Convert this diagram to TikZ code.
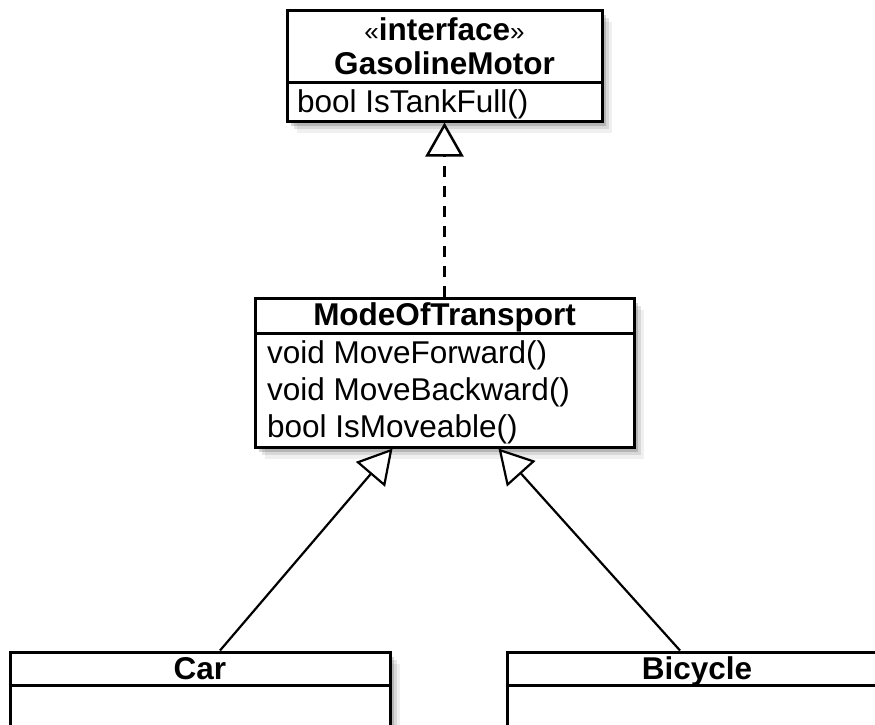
\documentclass[tikz,border=0pt]{standalone}
\usepackage{fontspec}
\setmainfont{Liberation Sans}
\usetikzlibrary{arrows.meta, shadows, calc}

\begin{document}
\begin{tikzpicture}[
    x=1pt, y=-1pt,
    font=\fontsize{31.5pt}{34pt}\selectfont,
    classbox/.style={rectangle, draw, line width=3pt, fill=white, inner sep=0pt,
        general shadow={fill=black, opacity=0.06, shadow xshift=10pt, shadow yshift=-12pt},
        general shadow={fill=black, opacity=0.10, shadow xshift=7pt, shadow yshift=-8pt},
        general shadow={fill=black, opacity=0.16, shadow xshift=4pt, shadow yshift=-5pt}},
    title/.style={anchor=base, inner sep=0pt, font=\fontsize{31.5pt}{34pt}\selectfont\bfseries},
    member/.style={anchor=base west, inner sep=0pt},
    divider/.style={line width=3pt},
    realize/.style={-{Triangle[open, fill=white, length=34pt, width=38pt]}, line width=2.5pt, dash pattern=on 11pt off 9pt},
    inherit/.style={-{Triangle[open, fill=white, length=34pt, width=38pt]}, line width=2.2pt}
]
\useasboundingbox (0,0) rectangle (875,724);

% Interface
\node[classbox, minimum width=315pt, minimum height=111pt] (gas) at (444.5,65.5) {};
\draw[divider] ([yshift=-74pt]gas.north west) -- ([yshift=-74pt]gas.north east);
\node[title] (gas-stereo) at (444.5,40) {{\mdseries\fontsize{26pt}{30pt}\selectfont«}interface{\mdseries\fontsize{26pt}{30pt}\selectfont»}};
\node[title] (gas-name) at (444.5,74) {GasolineMotor};
\node[member] (gas-op) at (297,112) {bool IsTankFull()};

% Base class
\node[classbox, minimum width=379pt, minimum height=149pt] (mode) at (444.5,372.5) {};
\draw[divider] ([yshift=-37pt]mode.north west) -- ([yshift=-37pt]mode.north east);
\node[title] (mode-name) at (444.5,325) {ModeOfTransport};
\node[member] (mode-op1) at (267,363) {void MoveForward()};
\node[member] (mode-op2) at (267,400) {void MoveBackward()};
\node[member] (mode-op3) at (267,437) {bool IsMoveable()};

% Subclasses
\node[classbox, minimum width=380pt, minimum height=74pt] (car) at (200,689) {};
\draw[divider] ([yshift=-35pt]car.north west) -- ([yshift=-35pt]car.north east);
\node[title] (car-name) at (200,679) {Car};

\node[classbox, minimum width=380pt, minimum height=74pt] (bike) at (697,689) {};
\draw[divider] ([yshift=-35pt]bike.north west) -- ([yshift=-35pt]bike.north east);
\node[title] (bike-name) at (697,679) {Bicycle};

% Arrows
\draw[realize] (mode.north) -- (gas.south);
\draw[inherit] ([xshift=20pt]car.north) -- ([xshift=-52pt]mode.south);
\draw[inherit] ([xshift=-17pt]bike.north) -- ([xshift=54pt]mode.south);

\end{tikzpicture}
\end{document}
